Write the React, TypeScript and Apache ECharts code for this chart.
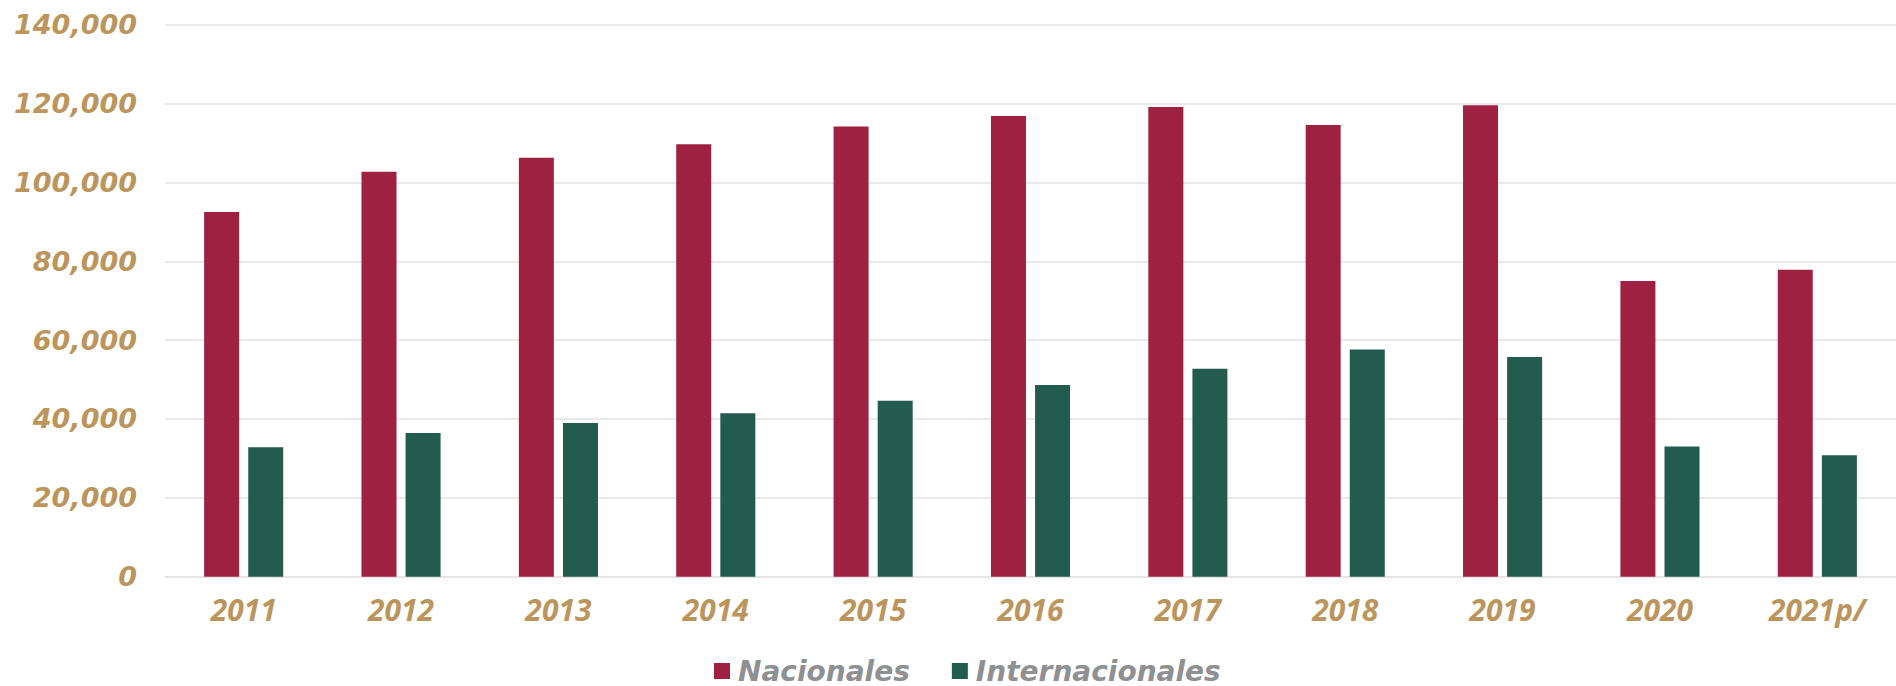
import React, { useEffect, useRef } from "react";
import * as echarts from "echarts";

const categories = ["2011", "2012", "2013", "2014", "2015", "2016", "2017", "2018", "2019", "2020", "2021p/"];
const nacionales = [92500, 102700, 106250, 109700, 114150, 116850, 119100, 114550, 119600, 75000, 77850];
const internacionales = [32800, 36450, 39000, 41450, 44650, 48600, 52750, 57650, 55700, 33050, 30800];
const seriesNames = ["Nacionales", "Internacionales"];
const yTicks = { min: 0, max: 140000, interval: 20000 };

const RED = "#9E2141";
const GREEN = "#235B4E";
const GOLD = "#BC955C";
const GRAY = "#8E9092";

export default function App() {
  const ref = useRef<HTMLDivElement>(null);
  useEffect(() => {
    if (!ref.current) return;
    const chart = echarts.init(ref.current, null, { renderer: "svg" });
    chart.setOption({
      animation: false,
      backgroundColor: "#ffffff",
      grid: { left: 165, right: -6, top: 24.7, bottom: 109.3, containLabel: false },
      legend: {
        data: seriesNames,
        left: 709,
        top: 651,
        icon: "rect",
        itemWidth: 16,
        itemHeight: 16,
        itemGap: 42,
        textStyle: {
          fontFamily: "DejaVu Sans",
          fontWeight: "bold",
          fontStyle: "italic",
          fontSize: 28,
          lineHeight: 30,
          color: GRAY,
          padding: [0, 0, 0, 3],
        },
      },
      xAxis: {
        type: "category",
        data: categories,
        axisLine: { show: true, lineStyle: { color: "#e3e3e3", width: 1.5 } },
        axisTick: { show: false },
        axisLabel: {
          margin: 18,
          fontFamily: "Open Sans",
          fontWeight: "bold",
          fontStyle: "italic",
          fontSize: 30,
          color: GOLD,
        },
      },
      yAxis: {
        type: "value",
        min: yTicks.min,
        max: yTicks.max,
        interval: yTicks.interval,
        axisLine: { show: false },
        axisTick: { show: false },
        splitLine: { lineStyle: { color: "#e3e3e3", width: 1.5 } },
        axisLabel: {
          margin: 28,
          fontFamily: "DejaVu Sans",
          fontWeight: "bold",
          fontStyle: "italic",
          fontSize: 27,
          color: GOLD,
          formatter: (v: number) => v.toLocaleString("en-US"),
        },
      },
      series: [
        {
          name: seriesNames[0],
          type: "bar",
          data: nacionales,
          barWidth: 35,
          barGap: "26%",
          itemStyle: { color: RED },
        },
        {
          name: seriesNames[1],
          type: "bar",
          data: internacionales,
          barWidth: 35,
          barGap: "26%",
          itemStyle: { color: GREEN },
        },
      ],
    });
    return () => chart.dispose();
  }, []);
  return (
    <div
      ref={ref}
      style={{ position: "fixed", left: 0, top: 0, width: 1896, height: 686, background: "#fff" }}
    />
  );
}
